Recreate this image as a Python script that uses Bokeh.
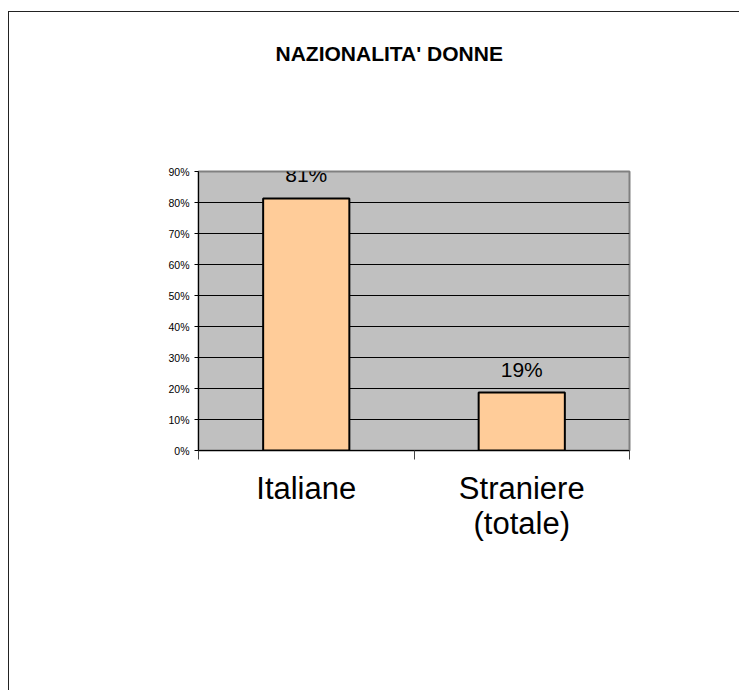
from bokeh.plotting import figure
from bokeh.models import Range1d, FixedTicker, NumeralTickFormatter, LabelSet, Title, ColumnDataSource
from bokeh.core.properties import value
from bokeh.embed import file_html
from bokeh.resources import INLINE

title_text = "NAZIONALITA' DONNE"
categories = ["Italiane", "Straniere\n(totale)"]
shares = [0.813, 0.187]
y_ticks = [0.0, 0.1, 0.2, 0.3, 0.4, 0.5, 0.6, 0.7, 0.8, 0.9]

FONT = "Liberation Sans"

xs = list(range(len(categories)))
src = ColumnDataSource(data=dict(
    x=xs,
    top=shares,
    label=[f"{round(v * 100)}%" for v in shares],
))

p = figure(
    output_backend="svg", toolbar_location=None,
    frame_width=431, frame_height=279,
    min_border_left=189, min_border_right=110,
    min_border_top=159, min_border_bottom=240,
    x_range=Range1d(-0.5, len(categories) - 0.5),
    y_range=Range1d(0, 0.9),
)
p.styles = {"border-left": "1px solid #222222", "border-top": "1px solid #222222",
            "margin-top": "11px", "margin-left": "8px"}

p.background_fill_color = "#C0C0C0"
p.border_fill_color = "white"
p.outline_line_color = "#808080"
p.outline_line_width = 2

# empty spacer panel between frame and title, then the title itself
p.add_layout(Title(text=" ", standoff=82, text_font=FONT, text_font_size="21px"), "above")
p.add_layout(Title(text=title_text, standoff=0, align="left", offset=77,
                   text_font=FONT, text_font_size="21px", text_font_style="bold",
                   text_color="black"), "above")

p.vbar(x="x", top="top", width=0.4, source=src,
       fill_color="#FFCC99", line_color="black", line_width=2)

p.add_layout(LabelSet(x="x", y="top", text="label", source=src,
                      text_align="center", text_baseline="alphabetic",
                      y_offset=16, text_font=value(FONT), text_font_size=value("21px"),
                      text_color="black", level="overlay"))

# y axis
ya = p.yaxis[0]
ya.ticker = FixedTicker(ticks=y_ticks)
ya.formatter = NumeralTickFormatter(format="0%")
ya.major_label_text_font = FONT
ya.major_label_text_font_size = "10.5px"
ya.major_label_text_color = "black"
ya.major_tick_out = 4
ya.major_tick_in = 0
ya.minor_tick_line_color = None
ya.major_label_standoff = 5
ya.axis_line_color = "black"

# x axis
xa = p.xaxis[0]
bounds = [i - 0.5 for i in range(len(categories) + 1)]
xa.ticker = FixedTicker(ticks=xs, minor_ticks=bounds)
xa.major_label_overrides = {i: c for i, c in zip(xs, categories)}
xa.major_tick_line_color = None
xa.minor_tick_out = 9
xa.minor_tick_in = 0
xa.minor_tick_line_color = "#444444"
xa.axis_line_color = "black"
xa.major_label_text_font = FONT
xa.major_label_text_font_size = "31px"
xa.major_label_text_line_height = 1.0
xa.major_label_text_color = "black"
xa.major_label_standoff = 11

p.xgrid.grid_line_color = None
p.ygrid.ticker = FixedTicker(ticks=y_ticks)
p.ygrid.grid_line_color = "black"
p.ygrid.grid_line_width = 1

open("out.html", "w").write(file_html(p, INLINE))
